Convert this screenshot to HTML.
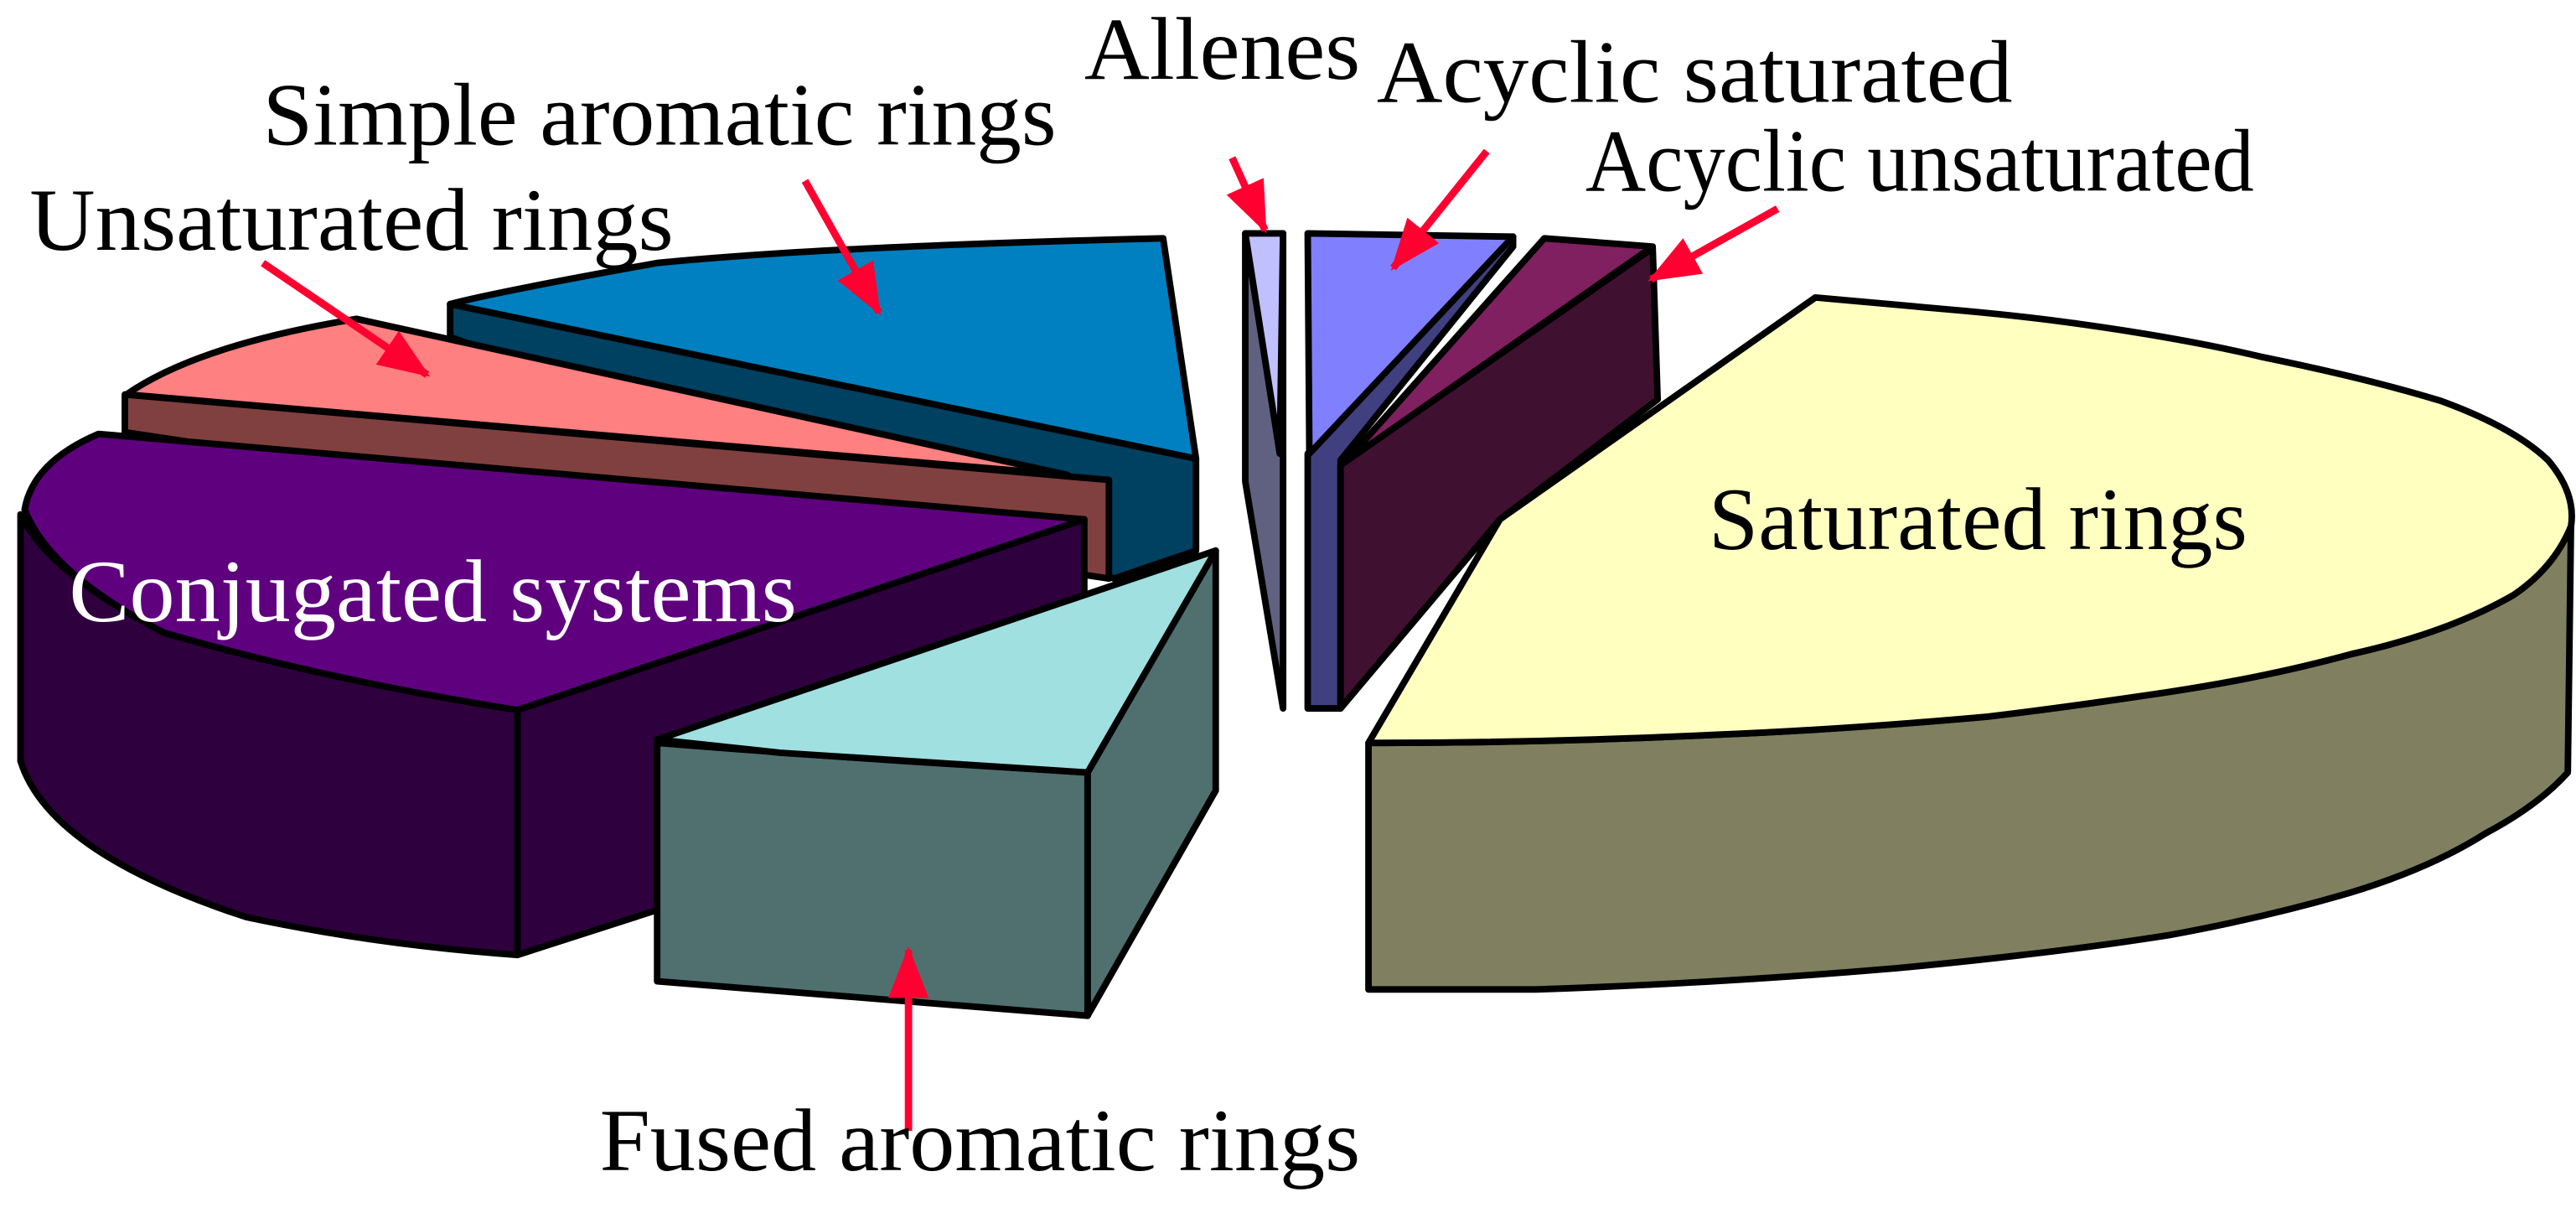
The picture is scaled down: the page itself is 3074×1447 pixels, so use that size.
<!DOCTYPE html>
<html><head><meta charset="utf-8"><style>
html,body{margin:0;padding:0;background:#fff;}
svg{display:block;}
text{font-family:"Liberation Serif","Times New Roman",serif;}
</style></head><body>
<svg width="3074" height="1447" viewBox="0 0 1568 738" preserveAspectRatio="none" xmlns="http://www.w3.org/2000/svg">
<defs>
<marker id="ah" markerWidth="7" markerHeight="5.5" refX="6.5" refY="2.75" orient="auto" markerUnits="strokeWidth">
<path d="M0,0 L7,2.75 L0,5.5 z" fill="#ff0030"/>
</marker>
</defs>
<g stroke="#000" stroke-width="4" stroke-linejoin="round">
<!-- Simple aromatic rings -->
<polygon points="274,185 728,279 728,335 678,352 274,205" fill="#004060"/>
<path d="M274,185 Q300,178 400,160 Q500,150 708,145 L728,279 Z" fill="#0080c0"/>
<!-- Unsaturated rings -->
<polygon points="76,240 675,292 675,352 76,263" fill="#804040"/>
<path d="M77,240 Q120,210 217,194 L650,289 Z" fill="#ff8080"/>
<!-- Conjugated systems -->
<path d="M12.5,313 L12.5,463 Q30,519 150,558 Q230,575 315,581 L315,432 Q200,414 100,385 Q30,349 12.5,313 Z" fill="#2e003e"/>
<polygon points="315,432 660,316 660,470 315,581" fill="#2e003e"/>
<path d="M60,264 L660,316 L315,432 Q200,414 100,385 Q30,349 15,310 Q20,281 60,264 Z" fill="#5f007f"/>
<!-- Fused aromatic rings -->
<polygon points="662,470 740,335 740,481 662,618" fill="#507070"/>
<path d="M400,452 Q475,458 550,463 L662,470 L662,618 L400,597 Z" fill="#507070"/>
<path d="M400,450 L740,335 L662,470 Q550,463 475,458 Z" fill="#a0e0e0"/>
<!-- Allenes -->
<polygon points="758,142 781,142 781,431 758,293" fill="#606080"/>
<polygon points="758,142 781,142 779,276" fill="#c0c0ff"/>
<!-- Acyclic saturated -->
<polygon points="921,144 921,150 816,280 816,431 796,431 796,276" fill="#404080"/>
<polygon points="796,142 921,144 797,276" fill="#8080ff"/>
<!-- Acyclic unsaturated -->
<polygon points="940,145 1006,150 819,281" fill="#802060"/>
<polygon points="816,283 1006,151 1009,243 913,316 816,431" fill="#401030"/>
<!-- Saturated rings -->
<path d="M833,452 L833,602 L935,602 Q1050,598 1155,589 Q1250,580 1320,569 Q1380,558 1431,543 Q1480,528 1513,507 Q1545,490 1563,470 L1565,316 Q1560,340 1530,362 Q1490,385 1431,398 Q1380,412 1320,421 Q1260,430 1210,436 Q1120,444 1045,447 Q940,452 833,452 Z" fill="#808060"/>
<path d="M1105,181 Q1150,185 1183,188 Q1230,192 1265,197 Q1330,206 1376,217 Q1440,230 1486,244 Q1530,260 1551,280 Q1568,300 1565,320 Q1555,345 1530,362 Q1490,385 1431,398 Q1380,412 1320,421 Q1260,430 1210,436 Q1120,444 1045,447 Q940,452 833,452 L913,316 Z" fill="#ffffc0"/>
</g>
<!-- arrows -->
<g stroke="#ff0030" stroke-width="4.5" fill="none" marker-end="url(#ah)">
<line x1="750" y1="96" x2="770" y2="140"/>
<line x1="905" y1="92" x2="848" y2="163"/>
<line x1="490" y1="110" x2="535" y2="190"/>
<line x1="1082" y1="127" x2="1005" y2="170"/>
<line x1="160" y1="160" x2="260" y2="228"/>
<line x1="553" y1="688" x2="553" y2="578"/>
</g>
<!-- labels -->
<g font-size="54" fill="#000">
<text x="660" y="48" textLength="168" lengthAdjust="spacingAndGlyphs">Allenes</text>
<text x="838" y="62" textLength="387" lengthAdjust="spacingAndGlyphs">Acyclic saturated</text>
<text x="160" y="88" textLength="483" lengthAdjust="spacingAndGlyphs">Simple aromatic rings</text>
<text x="965" y="116" textLength="407" lengthAdjust="spacingAndGlyphs">Acyclic unsaturated</text>
<text x="18" y="152" textLength="392" lengthAdjust="spacingAndGlyphs">Unsaturated rings</text>
<text x="1040" y="334" textLength="328" lengthAdjust="spacingAndGlyphs">Saturated rings</text>
<text x="42" y="378" fill="#fff" textLength="443" lengthAdjust="spacingAndGlyphs">Conjugated systems</text>
<text x="365" y="712" textLength="463" lengthAdjust="spacingAndGlyphs">Fused aromatic rings</text>
</g>
</svg>
</body></html>
